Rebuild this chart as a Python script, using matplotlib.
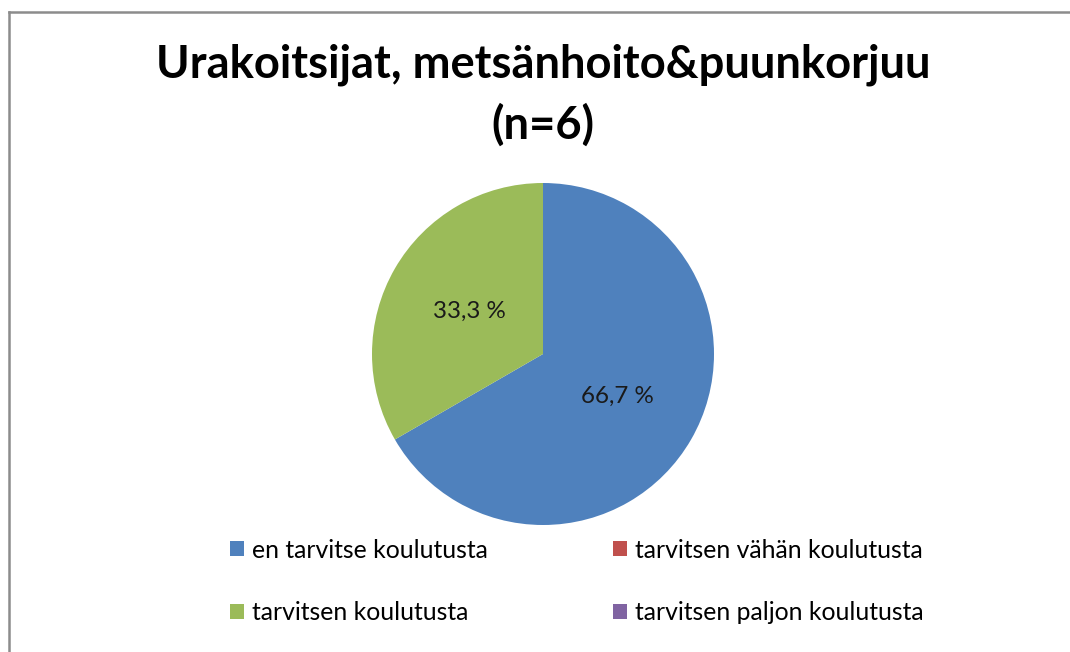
import matplotlib
matplotlib.use("Agg")
import matplotlib.pyplot as plt
from matplotlib.lines import Line2D

title_lines = ["Urakoitsijat, metsänhoito&puunkorjuu", "(n=6)"]
categories = ["en tarvitse koulutusta", "tarvitsen vähän koulutusta",
              "tarvitsen koulutusta", "tarvitsen paljon koulutusta"]
counts = [4, 0, 2, 0]
colors = ["#4F81BD", "#C0504D", "#9BBB59", "#8064A2"]

plt.rcParams['font.family'] = ['Lato', 'DejaVu Sans']

fig = plt.figure(figsize=(10.70, 6.52), dpi=100)
fig.patch.set_facecolor("white")

W, H = 1070, 652
cx, cy, r = 543, 354, 171
ax = fig.add_axes([(cx - r) / W, (H - cy - r) / H, 2 * r / W, 2 * r / H])

def fmt(p):
    if p <= 0.01:
        return ""
    return f"{p:.1f} %".replace(".", ",")

wedges, texts, autotexts = ax.pie(counts, colors=colors, startangle=90,
                                  counterclock=False, autopct=fmt,
                                  pctdistance=0.5, radius=1,
                                  textprops=dict(fontsize=17.4, color="#1a1a1a"))
ax.set_xlim(-1, 1)
ax.set_ylim(-1, 1)
ax.set_aspect("equal")

for line, ypx in zip(title_lines, [65, 125]):
    fig.text(cx / W, 1 - ypx / H, line, ha="center", va="center",
             fontsize=32.7, fontweight="bold", color="black")

# legend: 2x2 grid, row-major order
pos = {0: (230, 550), 1: (613, 550), 2: (230, 613), 3: (613, 613)}
for i in range(len(categories)):
    x, y = pos[i]
    fig.legend([wedges[i]], [categories[i]], loc="center left",
               bbox_to_anchor=(x / W, 1 - y / H), frameon=False,
               fontsize=17.8, handlelength=0.57, handleheight=0.55,
               handletextpad=0.33, borderpad=0, borderaxespad=0)

# chart frame
fig.add_artist(Line2D([9 / W, 9 / W], [0, 1 - 12 / H], transform=fig.transFigure,
                      color="#8c8c8c", lw=1.8))
fig.add_artist(Line2D([9 / W, 1], [1 - 12 / H, 1 - 12 / H], transform=fig.transFigure,
                      color="#8c8c8c", lw=1.8))

fig.savefig("out.png", dpi=100, facecolor="white")
